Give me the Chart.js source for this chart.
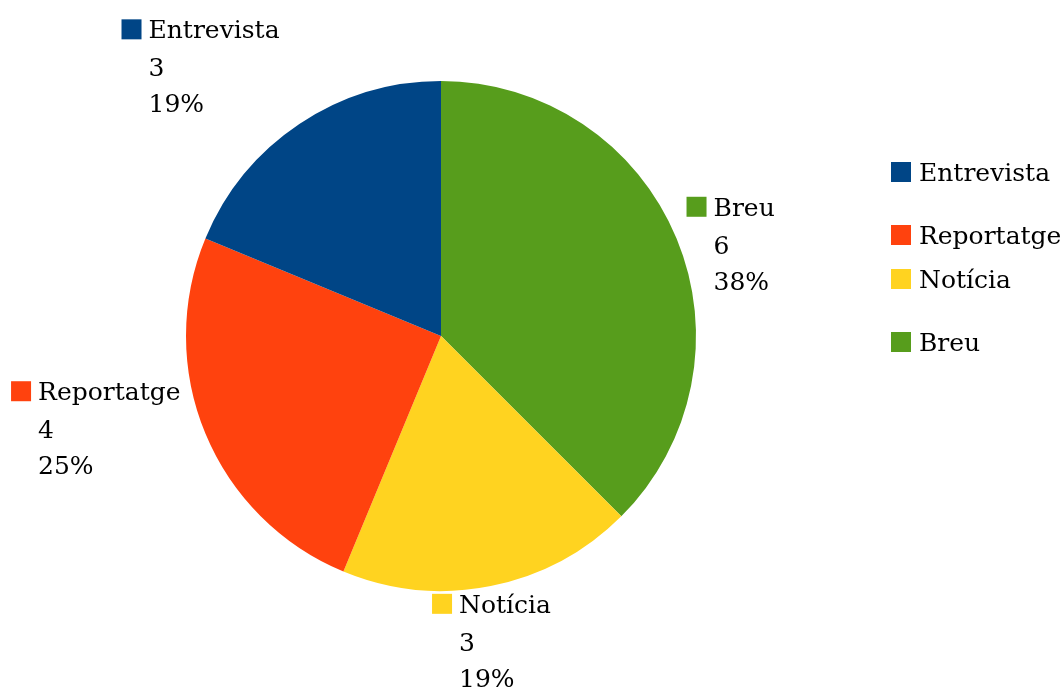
<!DOCTYPE html>
<html>
<head>
<meta charset="utf-8">
<script src="https://cdn.jsdelivr.net/npm/chart.js@4"></script>
<style>
  html, body { margin: 0; padding: 0; background: #fff; }
  #wrap { width: 1063px; height: 696px; }
</style>
</head>
<body>
<div id="wrap"><canvas id="pie" width="1063" height="696"></canvas></div>
<script>
const categories = ["Entrevista", "Reportatge", "Notícia", "Breu"];
const counts = [3, 4, 3, 6];
const colors = ["#004586", "#FF420E", "#FFD320", "#579D1C"];

const FONT = "25px 'DejaVu Serif'";
const total = counts.reduce((a, b) => a + b, 0);

// the reference runs counter-clockwise from 12 o'clock, so feed the slices reversed
const order = categories.map((_, i) => i).reverse();

const sliceLabels = {
    id: "sliceLabels",
    afterDatasetsDraw(chart) {
        const ctx = chart.ctx;
        const meta = chart.getDatasetMeta(0);
        ctx.save();
        ctx.font = FONT;
        ctx.textBaseline = "alphabetic";
        meta.data.forEach((arc, i) => {
            const idx = order[i];
            const mid = (arc.startAngle + arc.endAngle) / 2;
            const cos = Math.cos(mid), sin = Math.sin(mid);
            const lines = [categories[idx], String(counts[idx]), Math.round(counts[idx] / total * 100) + "%"];
            const tw = Math.max(...lines.map(l => ctx.measureText(l).width));
            const w = 27 + tw, h = 18 + 38 + 36;
            const ax = arc.x + (arc.outerRadius + 14) * cos;
            let left, top;
            if (cos < -0.3) left = ax - w - 12;
            else if (cos > 0.3) left = ax - 3;
            else left = ax - w / 2 - 2;
            if (sin < -0.7) top = arc.y + (arc.outerRadius + 14) * sin - h;
            else if (sin > 0.7) top = arc.y + (arc.outerRadius + 14) * sin - 5;
            else top = arc.y + (arc.outerRadius - 14) * sin - h / 2;
            ctx.fillStyle = colors[idx];
            ctx.fillRect(left, top - 1, 20, 20);
            ctx.fillStyle = "#000";
            const tx = left + 27;
            ctx.fillText(lines[0], tx, top + 18);
            ctx.fillText(lines[1], tx, top + 18 + 38);
            ctx.fillText(lines[2], tx, top + 18 + 38 + 36);
        });
        ctx.restore();
    }
};

const sideLegend = {
    id: "sideLegend",
    afterDraw(chart) {
        const ctx = chart.ctx;
        const rows = [162, 225, 269, 332];
        ctx.save();
        ctx.font = FONT;
        ctx.textBaseline = "alphabetic";
        categories.forEach((c, i) => {
            ctx.fillStyle = colors[i];
            ctx.fillRect(891, rows[i], 20, 20);
            ctx.fillStyle = "#000";
            ctx.fillText(c, 919, rows[i] + 19);
        });
        ctx.restore();
    }
};

new Chart(document.getElementById("pie"), {
    type: "pie",
    data: {
        labels: order.map(i => categories[i]),
        datasets: [{
            data: order.map(i => counts[i]),
            backgroundColor: order.map(i => colors[i]),
            borderWidth: 0
        }]
    },
    options: {
        responsive: false,
        animation: false,
        layout: { padding: { left: 186, right: 367, top: 81, bottom: 105 } },
        plugins: {
            legend: { display: false },
            tooltip: { enabled: false }
        }
    },
    plugins: [sliceLabels, sideLegend]
});
</script>
</body>
</html>
